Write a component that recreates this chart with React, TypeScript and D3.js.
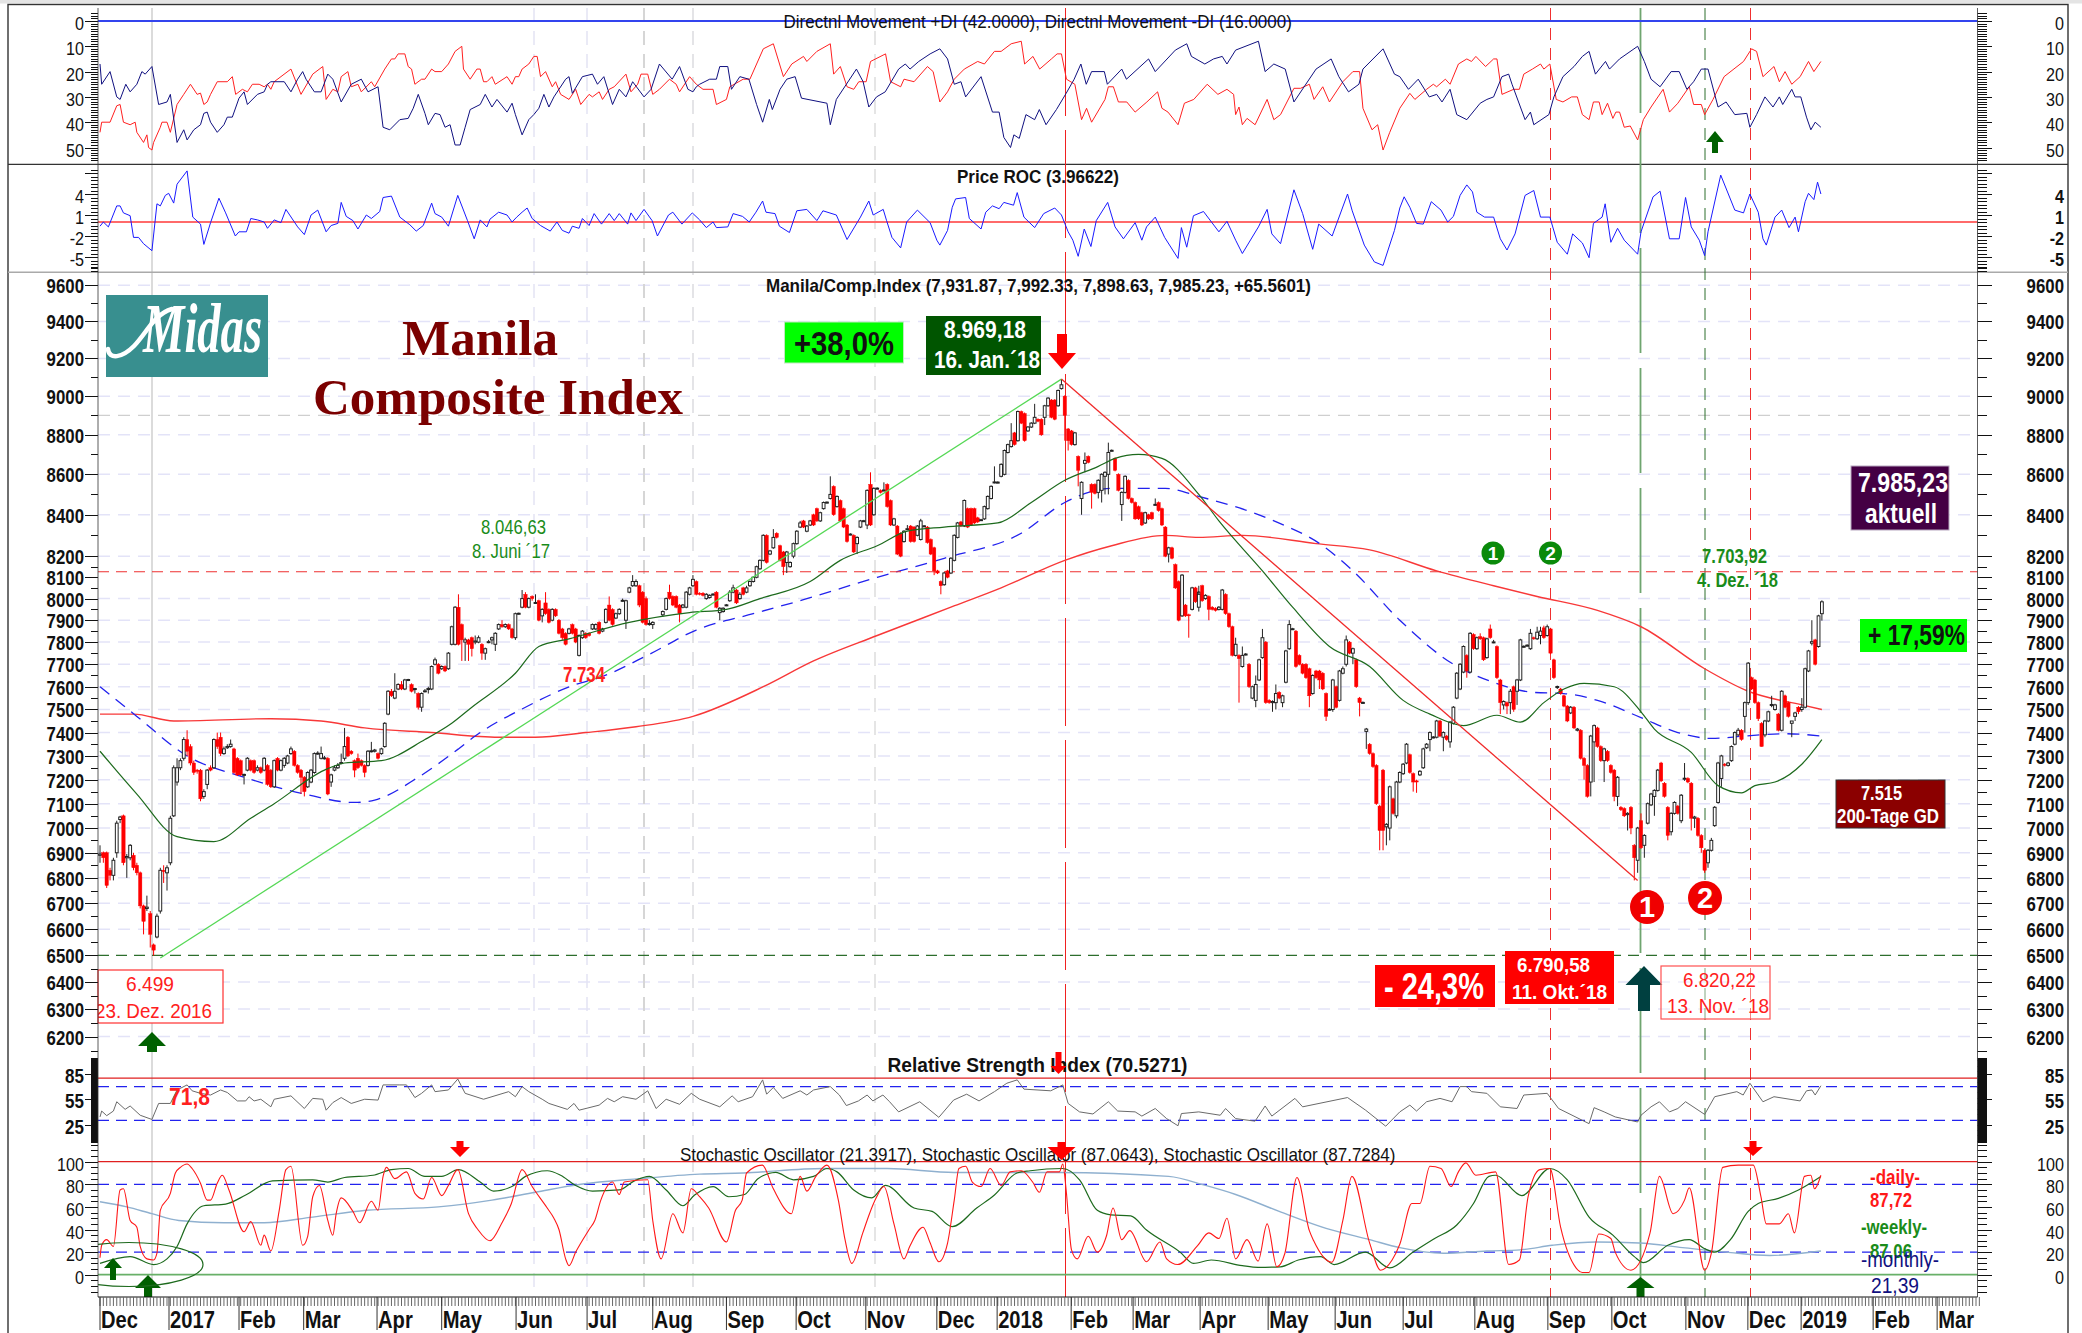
import React from "react";
import * as d3 from "d3";

// ---------- tick labels ----------
const priceLabels = [9600,9400,9200,9000,8800,8600,8400,8200,8100,8000,7900,7800,7700,7600,7500,7400,7300,7200,7100,7000,6900,6800,6700,6600,6500,6400,6300,6200];
const diLabels = [0,10,20,30,40,50];
const rocLabels = [4,1,-2,-5];
const rsiLabels = [85,55,25];
const stochLabels = [100,80,60,40,20,0];
const monthNames = ["Dec","2017","Feb","Mar","Apr","May","Jun","Jul","Aug","Sep","Oct","Nov","Dec","2018","Feb","Mar","Apr","May","Jun","Jul","Aug","Sep","Oct","Nov","Dec","2019","Feb","Mar"];
const monthDay = [0,20.6,41.5,60.8,82.7,102,124.2,145.4,165,187,207.8,228.6,249.8,267.8,289.9,308.4,328.4,348.7,368.7,389,410.4,432.2,451.3,473.4,491.9,507.8,529.3,548.4];

// ---------- candles: [open, high, low, close] ----------
const candlesA = [
[6890,6930,6860,6895],[6900,6905,6860,6880],[6900,6905,6760,6770],[6830,6840,6790,6810],[6810,6880,6790,6870],[6900,7030,6880,7020],[7035,7050,7020,7045],[7050,7055,6850,6860],[6880,6895,6800,6885],[6880,6935,6870,6930],
[6890,6900,6830,6840],[6850,6860,6810,6820],[6820,6825,6680,6690],[6690,6695,6580,6630],[6680,6730,6670,6685],[6660,6670,6530,6580],[6540,6545,6499,6520],[6570,6660,6565,6650],[6670,6840,6660,6830],[6830,6850,6780,6825],
[6820,6850,6750,6840],[6860,7050,6850,7040],[7050,7260,7045,7250],[7190,7290,7175,7250],[7250,7290,7240,7280],[7290,7380,7280,7370],[7370,7410,7300,7320],[7340,7350,7260,7270],[7270,7280,7220,7230],[7240,7245,7225,7235],
[7240,7245,7110,7120],[7130,7160,7120,7150],[7180,7245,7160,7240],[7250,7260,7235,7240],[7250,7375,7245,7370],[7370,7400,7330,7340],[7380,7400,7300,7310],[7310,7340,7305,7330],[7335,7350,7330,7340],[7340,7370,7335,7350],
[7330,7335,7225,7230],[7290,7295,7215,7220],[7280,7285,7215,7220],[7220,7225,7180,7222],[7240,7295,7235,7290],[7280,7285,7235,7240],[7280,7285,7225,7230],[7240,7260,7235,7250],[7250,7255,7225,7230],[7240,7295,7235,7290],
[7260,7265,7175,7180],[7240,7245,7165,7170],[7170,7285,7165,7280],[7290,7295,7235,7240],[7240,7285,7235,7280],[7260,7295,7250,7290],[7270,7305,7265,7300],[7310,7340,7305,7330],[7320,7325,7255,7260],[7260,7265,7225,7230],
[7240,7245,7140,7210],[7210,7215,7130,7150],[7170,7235,7165,7230],[7190,7245,7185,7240],[7230,7315,7225,7310],[7310,7320,7305,7312],[7290,7340,7285,7310],[7290,7300,7285,7292],[7290,7295,7135,7140],[7190,7225,7170,7220],
[7240,7260,7235,7250],[7250,7270,7245,7260],[7270,7310,7265,7272],[7290,7420,7280,7340],[7380,7385,7295,7300],[7320,7325,7305,7310],[7280,7285,7210,7240],[7290,7310,7245,7250],[7280,7285,7255,7260],[7260,7265,7210,7230],
[7260,7325,7255,7320],[7320,7360,7315,7322],[7320,7330,7315,7325],[7310,7315,7285,7290],[7310,7335,7305,7330],[7340,7445,7335,7440],[7480,7585,7475,7580],[7580,7590,7555,7560],[7550,7660,7545,7580],[7590,7615,7585,7610],
[7610,7625,7585,7590],[7590,7635,7585,7630],[7630,7635,7625,7632],[7610,7615,7575,7580],[7590,7595,7570,7592],[7570,7575,7500,7510],[7510,7575,7490,7570],[7580,7590,7575,7582],[7590,7600,7570,7592],[7590,7695,7585,7690],
[7700,7730,7695,7720],[7700,7705,7655,7660],[7680,7695,7675,7690],[7690,7695,7665,7670],[7680,7755,7675,7750],[7790,7875,7785,7870],[7790,7965,7785,7960],[7960,8020,7785,7790],[7880,7885,7715,7810],[7800,7820,7715,7810],
[7810,7815,7715,7790],[7820,7825,7735,7770],[7800,7830,7790,7805],[7800,7830,7795,7820],[7790,7795,7720,7750],[7750,7775,7720,7770],[7800,7810,7795,7802],[7810,7825,7790,7820],[7790,7845,7760,7840],[7860,7885,7855,7880],
[7880,7900,7865,7870],[7870,7885,7865,7880],[7880,7885,7855,7860],[7860,7865,7815,7820],[7820,7935,7810,7930],[7930,7935,7925,7932],[7960,8040,7955,8000],[8020,8030,7955,7960],[7960,8005,7955,8000],[8010,8015,7990,8000],
[7980,8020,7975,7982],[7990,7995,7895,7900],[7920,7955,7890,7950],[7980,8030,7925,7930],[7950,7955,7885,7890],[7900,7955,7895,7950],[7950,7955,7915,7920],[7900,7905,7835,7840],[7860,7865,7810,7820],[7840,7845,7785,7790],
[7840,7865,7835,7860],[7880,7885,7835,7840],[7860,7865,7795,7800],[7740,7835,7735,7830],[7820,7855,7815,7850],[7840,7845,7815,7820],[7840,7845,7825,7830],[7860,7885,7855,7880],[7860,7885,7855,7880],[7890,7895,7835,7840],
[7850,7865,7845,7860],[7890,7955,7885,7950],[7970,8010,7895,7900],[7950,7955,7875,7880],[7910,7935,7905,7930],[7930,7955,7925,7950],[7990,8000,7985,7992],[7900,7995,7860,7990],[8030,8055,8025,8050],[8060,8110,8055,8080],
[8060,8090,8055,8080],[8060,8065,7960,7970],[8030,8035,7885,7890],[8000,8010,7875,7880],[7880,7900,7875,7885],[7880,7895,7860,7890]
];
const candlesB = [
[7925,7945,7915,7940],[7950,8005,7945,8000],[8030,8065,7995,8000],[8010,8015,7965,7970],[8010,8015,7955,7960],[7970,7975,7890,7930],[7960,7975,7955,7970],[7960,8035,7955,8030],[8020,8055,8015,8050],[8060,8110,8055,8090],
[8080,8085,8015,8020],[8025,8030,8015,8020],[8025,8030,8010,8015],[8000,8025,7995,8020],[8005,8020,8000,8015],[8020,8025,8015,8021],[8030,8035,7955,7960],[7935,7960,7900,7955],[7940,7960,7935,7955],[7970,7975,7965,7971],
[7990,8040,7985,8030],[8030,8065,8025,8050],[8040,8045,7975,7980],[8000,8030,7995,8020],[8050,8055,8015,8020],[8030,8060,8025,8050],[8060,8085,8055,8080],[8080,8105,8075,8100],[8100,8155,8095,8150],[8140,8185,8135,8180],
[8180,8305,8175,8300],[8300,8305,8165,8170],[8210,8230,8205,8225],[8240,8330,8235,8290],[8310,8315,8285,8290],[8250,8255,8175,8180],[8220,8225,8110,8150],[8170,8225,8120,8220],[8150,8175,8145,8170],[8200,8265,8190,8260],
[8260,8325,8255,8320],[8340,8370,8335,8360],[8370,8375,8335,8340],[8320,8350,8315,8345],[8350,8375,8345,8370],[8400,8405,8345,8350],[8430,8435,8365,8370],[8370,8415,8365,8410],[8430,8465,8425,8460],[8460,8465,8455,8462],
[8480,8590,8475,8500],[8540,8545,8395,8400],[8440,8495,8435,8490],[8470,8475,8365,8370],[8430,8435,8335,8340],[8350,8355,8265,8270],[8305,8310,8300,8306],[8300,8305,8215,8220],[8260,8295,8210,8290],[8340,8375,8335,8370],
[8370,8375,8365,8371],[8350,8525,8330,8520],[8550,8610,8345,8350],[8400,8535,8395,8530],[8530,8535,8525,8531],[8520,8525,8505,8510],[8520,8560,8515,8522],[8550,8555,8435,8440],[8470,8475,8345,8350],[8350,8385,8345,8380],
[8345,8350,8205,8210],[8310,8315,8195,8200],[8270,8325,8265,8320],[8330,8350,8325,8332],[8345,8350,8265,8270],[8340,8345,8265,8270],[8300,8350,8295,8345],[8280,8380,8275,8370],[8345,8350,8340,8346],[8340,8345,8260,8265],
[8280,8285,8205,8210],[8240,8245,8110,8130],[8130,8135,8115,8120],[8080,8085,8020,8060],[8065,8125,8060,8120],[8130,8135,8095,8100],[8120,8195,8115,8190],[8180,8305,8175,8300],[8290,8365,8285,8360],[8365,8370,8340,8345],
[8345,8475,8340,8470],[8430,8435,8335,8340],[8430,8435,8345,8350],[8430,8435,8355,8360],[8385,8390,8360,8365],[8375,8380,8370,8376],[8380,8445,8375,8440],[8430,8495,8425,8490],[8480,8545,8475,8540],[8560,8640,8555,8562],
[8560,8565,8555,8561],[8590,8655,8585,8650],[8600,8725,8595,8720],[8710,8755,8705,8750],[8740,8860,8735,8770],[8810,8815,8745,8750],[8770,8925,8765,8920],[8920,8925,8855,8860],[8910,8915,8765,8770],[8820,8845,8815,8840],
[8840,8865,8835,8860],[8860,8960,8855,8890],[8880,8885,8865,8870],[8880,8885,8795,8800],[8890,8955,8850,8950],[8950,8995,8945,8990],[8980,8985,8885,8890],[8980,8985,8875,8880],[8950,9035,8945,9030],[9040,9090,9035,9060],
[9000,9005,8770,8900],[8830,8835,8720,8770],[8820,8825,8745,8750],[8750,8815,8745,8810],[8690,8695,8540,8620],[8480,8565,8400,8560],[8655,8710,8610,8670],[8690,8695,8655,8660],[8550,8555,8430,8510],[8550,8555,8500,8505],
[8510,8575,8480,8570],[8520,8605,8460,8600],[8590,8615,8500,8610],[8600,8760,8500,8710],[8720,8725,8715,8721],[8680,8685,8615,8620],[8600,8605,8515,8520],[8450,8515,8370,8510],[8510,8595,8505,8590],[8570,8575,8475,8480],
[8480,8485,8455,8460],[8460,8465,8375,8380],[8440,8445,8375,8380],[8410,8415,8345,8350],[8360,8415,8355,8410],[8400,8405,8375,8380],[8410,8415,8375,8380],[8450,8480,8445,8451],[8460,8465,8415,8420],[8430,8435,8345,8350],
[8340,8345,8195,8200],[8210,8245,8170,8240],[8240,8245,8185,8190],[8160,8165,8045,8050],[8080,8085,7895,7900],[7920,8115,7915,8110],[7970,7975,7915,7920],[7925,7930,7820,7920],[7950,8055,7945,8050],[8050,8055,7980,7985],[7990,8035,7985,8030]
];
const candlesC = [
[7960,8060,7940,8020],[8060,8065,7985,7990],[8000,8020,7995,8015],[8010,8015,7900,7950],[7960,7965,7945,7950],[7955,7960,7940,7945],[7950,7965,7945,7960],[7950,8045,7945,8040],[8020,8025,7925,7930],[7930,7935,7865,7870],
[7870,7875,7735,7740],[7740,7820,7735,7790],[7740,7745,7530,7725],[7690,7780,7685,7740],[7745,7750,7740,7746],[7700,7705,7595,7600],[7550,7605,7545,7600],[7540,7650,7510,7610],[7630,7725,7625,7720],[7730,7860,7725,7820],
[7800,7805,7525,7530],[7540,7545,7525,7530],[7530,7540,7490,7535],[7530,7610,7500,7570],[7575,7580,7545,7550],[7530,7565,7510,7560],[7620,7765,7615,7760],[7770,7900,7765,7880],[7860,7865,7855,7861],[7850,7855,7685,7690],
[7740,7745,7695,7700],[7700,7705,7655,7660],[7700,7705,7635,7640],[7680,7685,7510,7560],[7570,7655,7565,7650],[7670,7675,7635,7640],[7670,7675,7590,7630],[7660,7665,7585,7590],[7570,7575,7450,7470],[7500,7505,7495,7501],
[7500,7635,7490,7630],[7600,7605,7505,7510],[7540,7675,7535,7670],[7660,7690,7655,7680],[7700,7830,7690,7810],[7800,7805,7745,7750],[7750,7775,7700,7770],[7720,7725,7595,7600],[7550,7555,7470,7530],[7530,7535,7525,7531],
[7405,7420,7330,7415],[7350,7355,7305,7310],[7310,7315,7250,7255],[7260,7265,7095,7100],[7090,7095,6910,6990],[7240,7245,6910,6990],[7005,7020,6930,7015],[7000,7175,6950,7170],[7120,7125,7055,7060],[7050,7195,7040,7190],
[7190,7235,7185,7230],[7225,7270,7220,7265],[7270,7355,7265,7350],[7305,7310,7225,7230],[7225,7230,7150,7190],[7195,7200,7145,7190],[7220,7240,7215,7235],[7250,7335,7245,7330],[7335,7355,7330,7350],[7370,7405,7320,7400],
[7380,7385,7375,7381],[7380,7455,7375,7450],[7450,7455,7380,7385],[7380,7405,7320,7400],[7385,7390,7365,7370],[7360,7450,7335,7445],[7440,7515,7435,7510],[7550,7665,7545,7660],[7590,7705,7585,7700],[7665,7785,7660,7780],
[7740,7745,7640,7670],[7665,7845,7660,7840],[7835,7840,7765,7770],[7770,7825,7765,7820],[7825,7840,7810,7815],[7820,7825,7715,7720],[7730,7820,7725,7815],[7860,7880,7815,7820],[7800,7810,7795,7801],[7780,7785,7635,7640],
[7630,7635,7480,7530],[7520,7540,7500,7535],[7530,7535,7480,7515],[7530,7590,7480,7580],[7600,7605,7490,7500],[7580,7635,7520,7630],[7630,7815,7625,7810],[7780,7785,7775,7781],[7785,7790,7780,7786],[7770,7860,7765,7840],
[7820,7825,7810,7815],[7815,7870,7810,7845],[7830,7870,7790,7850],[7865,7875,7815,7820],[7830,7880,7825,7870],[7860,7865,7745,7750],[7720,7725,7635,7640],[7600,7605,7590,7601],[7590,7595,7565,7570],[7560,7565,7510,7515],
[7515,7520,7445,7450],[7485,7515,7480,7510],[7510,7515,7415,7420],[7410,7420,7405,7415],[7410,7415,7285,7290],[7290,7295,7200,7260],[7260,7265,7125,7130],[7190,7390,7130,7385],[7360,7435,7190,7430],[7420,7425,7335,7340],
[7340,7345,7275,7280],[7280,7335,7190,7330],[7320,7325,7275,7280],[7260,7265,7225,7230],[7240,7245,7110,7130],[7130,7215,7090,7210],[7085,7090,7070,7075],[7080,7085,7045,7050],[7055,7065,6990,7060],[7085,7090,6975,7000],
[6930,6935,6790,6880],[6870,7005,6820,7000],[7030,7060,6915,6920],[6930,6975,6880,6970],[7020,7105,7015,7100],[7095,7145,7090,7140],[7130,7160,7050,7155],[7155,7245,7150,7240],[7270,7275,7190,7195],[7185,7190,7125,7130],
[7085,7090,6950,6970],[6985,7065,6970,7060],[7060,7110,7055,7105],[7090,7095,7055,7060],[7030,7140,7020,7135],[7205,7270,7195,7206],[7205,7210,7185,7190],[7185,7190,6990,7040],[7040,7050,7000,7045],[7040,7045,6965,6970],
[6970,6975,6900,6920],[6910,6915,6820,6830],[6860,6915,6840,6910],[6910,6960,6905,6950],[7010,7090,7005,7085],[7105,7275,7100,7270],[7205,7305,7170,7300],[7265,7270,7255,7260],[7260,7275,7255,7270],[7280,7345,7275,7340],
[7350,7405,7345,7400],[7390,7420,7385,7410],[7410,7415,7365,7370],[7470,7535,7400,7530]
];
const candlesD = [
[7530,7710,7520,7705],[7640,7645,7585,7590],[7630,7635,7525,7530],[7530,7535,7450,7460],[7440,7445,7340,7340],[7390,7455,7380,7450],[7450,7495,7445,7490],[7520,7560,7510,7522],[7500,7525,7495,7520],[7480,7485,7405,7410],
[7410,7585,7405,7580],[7560,7565,7505,7510],[7530,7535,7465,7470],[7440,7450,7380,7450],[7470,7490,7450,7485],[7510,7515,7480,7490],[7500,7550,7490,7510],[7510,7685,7505,7680],[7670,7765,7665,7760],[7795,7900,7785,7802],
[7810,7815,7695,7700],[7780,7925,7775,7920],[7930,7992,7898,7985]
];
const sectionStart = [0, 168, 328, 492];

// ---------- moving averages: [candle index, value] ----------
const ma200 = [[0,7480],[10,7480],[22,7450],[51,7460],[66,7450],[79,7420],[99,7400],[119,7380],[130,7380],[145,7400],[160,7425],[177,7470],[198,7600],[213,7715],[232,7830],[254,7960],[269,8050],[288,8180],[302,8250],[318,8300],[328,8290],[341,8300],[363,8260],[379,8230],[399,8130],[416,8060],[429,8010],[447,7945],[460,7870],[479,7680],[492,7580],[508,7520],[514,7500]];
const ma100 = [[0,7600],[11,7470],[26,7300],[43,7210],[61,7140],[76,7105],[82,7115],[95,7210],[107,7330],[112,7385],[127,7510],[142,7610],[149,7640],[164,7745],[178,7855],[195,7930],[210,7995],[232,8100],[252,8190],[275,8310],[288,8460],[302,8530],[318,8530],[328,8490],[350,8373],[365,8250],[374,8130],[388,7900],[404,7700],[415,7625],[428,7575],[437,7570],[447,7540],[460,7465],[471,7400],[481,7375],[491,7385],[503,7395],[514,7385]];
const ma50 = [[0,7320],[11,7140],[23,6965],[34,6945],[45,7040],[52,7100],[67,7240],[73,7270],[84,7280],[97,7370],[105,7440],[111,7510],[124,7660],[131,7780],[140,7815],[158,7890],[176,7935],[187,7950],[197,8000],[212,8080],[221,8180],[232,8250],[241,8320],[252,8340],[268,8360],[278,8460],[288,8570],[298,8640],[303,8680],[310,8700],[317,8680],[328,8500],[334,8370],[347,8130],[356,7960],[367,7780],[379,7690],[389,7540],[397,7480],[407,7430],[417,7475],[424,7445],[431,7530],[437,7590],[443,7615],[452,7600],[460,7490],[464,7415],[475,7315],[483,7175],[490,7145],[494,7175],[500,7190],[508,7265],[514,7370]];
const trendUp = [[18,6490],[287,9090]];
const trendDown = [[287,9090],[459,6790]];

// ---------- DMI ----------
const diRed = [[0,44],[0.5,40],[3,40],[5,33.5],[6,33],[7,40],[9,41],[10.5,40],[11,44],[13,48],[14,45],[14.5,50],[15.5,51],[16,48],[18,42],[18.5,40],[20,40],[21,44],[23,33],[25,29],[27,25],[29,29],[30,28.5],[31,33],[32,32],[33,29],[35,24],[38,24],[39.5,22],[40.5,29],[42.5,27],[44,28],[45.5,25],[47.5,25],[49,26],[50,25],[51,27],[52,24],[57,19],[60,29],[63.5,21],[66.5,18],[67.5,31],[69.5,27],[71,28],[72,22],[74,20],[75,26],[77,25],[78,28],[81,24],[82,26],[85,19],[87,15],[88,15],[89,13],[91,13],[92,18],[93,19],[94,25],[96,23],[97,23],[99,19],[100,20],[102,20],[104,17],[106,12],[108,10],[108.5,19],[110.5,23],[112.5,19],[113.5,19],[114.5,24],[115.5,24],[117,22],[118,25],[121.5,22],[123,25],[124,22],[125,22],[126,19],[128,17],[129.5,14],[130.5,14],[131.5,22],[133,20],[135,26],[136,24],[137.5,29],[140,31],[142,27],[143.5,33],[146,29],[147,30],[149,28],[150,31],[152,27],[153.5,26],[157,21],[158.5,28],[160.5,25],[161.5,21],[163.5,21],[165,29],[167,27],[170,23],[172,25],[173,28],[176,22],[178,25],[180,27],[183,27],[184,33],[187,31],[188,26],[192,23],[194,23],[198,11],[201,9],[204,22],[206.5,17],[210,14],[211,16],[214,12],[218,9],[219,21],[221,18],[223,26],[225,27],[226.5,24],[228.7,24],[230,16],[234.5,13],[236,24],[239,26],[240,23],[243,24],[247,18],[248.7,20],[250.7,32],[253,28],[255,23],[258,19],[262,16],[264,17],[267,12],[269,12],[272,9],[275,8],[276,17],[278.5,14],[280.5,19],[284,15],[285.7,13],[287,13],[288.5,23],[291,25],[293,39],[294.5,34.5],[296,40],[300,31],[301,26],[302.5,26],[304,32],[306.5,32],[309,36],[312.5,32],[315.7,28],[317,34.5],[318.8,36],[321.8,41],[323.7,32.5],[326.5,31],[330.5,25],[333.7,29],[336.4,27],[338.4,29],[339,37],[340,34],[341,41],[342.4,38.5],[344.8,41],[348.4,31],[350.4,39],[352.4,37],[356.4,26.6],[358.4,26.6],[361,25],[362.4,31],[365,26],[367,32],[371,24],[374,20],[376,20],[377,34.5],[379.7,43],[381.4,41],[383,51],[385,44],[388,34.5],[391,28.6],[392.5,31],[396,27],[398,25],[399,26],[401.6,23],[403,25],[405.5,17],[408,15],[409.4,16],[410.7,14],[413.6,18],[416,15],[417,15],[418.5,29],[422,27],[423.7,27],[425,21],[427.6,19],[430,17],[431,19],[432.8,17],[434.7,31],[436.7,32],[439.3,30],[441,30],[442.5,37],[444.5,39],[445.8,32],[447.5,32],[448.4,37],[450,32.5],[451.6,38.5],[452.5,36],[453.6,36],[455,42],[456.8,41.5],[459,47],[460.7,39],[463,34],[466.6,27],[468.5,36],[471,32.5],[474.4,26],[475.7,33],[478,33],[479,37],[481.5,31],[484.8,22],[490.6,16],[493,11],[494.5,12],[496.4,22],[499.7,18],[501.3,24],[503,20],[505,25],[507.5,22],[510,16],[511.6,20],[513.7,16]];
const diBlue = [[0,17],[0.5,25],[3,20],[5,30],[6,31],[7.7,25],[9,28],[11,25],[12.5,20],[13.5,21],[15.5,18],[17.5,33],[20,32],[21,29],[23,48],[25,43],[26,47],[28,43],[30,41],[31,36.5],[32,36],[33,40],[35,44],[37,41],[38,38],[39.5,38],[41.5,30.5],[43,28],[44,33],[47,29],[49,28],[50,25],[51,24],[55,24],[57,28],[59,23],[60.5,20],[61.5,23],[64,28],[66,28],[68,21],[69.5,23],[72,32],[75,25],[78,23],[80,28],[83,26],[84.5,42],[86.5,43],[89.5,39],[92,38.5],[93.5,34.5],[95,29],[97,36.5],[98,41],[100,36.5],[101.5,37],[103,42],[104.5,41],[106,49],[107.5,49],[109,42],[110.5,35],[113.5,33],[115,29],[117,34],[118.5,31],[121.5,36],[123,32.5],[124,37],[126,45],[128,39],[129.5,37],[131,34.5],[132.5,29],[134,34],[135.5,30],[139,23],[140,22],[141,28.6],[144,22],[147,21],[148.5,25],[150.4,22],[153,33],[155,27],[157,30],[159,24],[162.4,30],[164.5,27],[167,17],[170.8,23],[173,18],[175.5,27],[177,28],[178,26],[179,25],[182,23],[184,23],[185,18],[187.4,18],[188.5,27],[191,22],[193.7,23],[196,33],[197.8,40],[199.8,31],[200.7,35],[203,27],[205,23],[207.5,22],[209.4,30.5],[217,32.5],[218,41],[219.8,31],[225.8,19],[227.8,24],[229.5,34],[231.8,30],[234.4,28],[238.4,19],[240.4,17],[241.8,19],[244.4,16],[247.8,13],[250.7,11],[253,15],[255,25],[257,24],[258.4,30],[263,22],[266.4,36],[268.4,36],[269.8,46],[271.8,50],[272.8,45],[274.4,46.4],[276.4,37],[279,39],[280.4,35],[282.4,41],[285.5,35],[288.4,28.6],[290.8,23],[292.8,17],[294.4,25],[296,20],[299.8,20],[300.7,25],[305,19],[306.4,23],[313,15],[315,20],[321,11.5],[324.4,9],[325.8,14],[329.8,17],[332.4,15],[335,14],[336.4,17],[339,11.5],[345.8,8],[347.8,20],[350.4,17],[353.8,19],[356.4,32],[363,19],[367.5,15],[369.8,22],[372.7,28],[375.8,25],[377,19],[383,11],[386.4,21],[388,22],[390.6,27],[393.5,23],[396.8,30],[399,29],[400.6,32],[403,27],[405,37],[408,39],[412,32.5],[414,31],[416,30],[418.5,22],[420.5,21],[421.5,25],[425.4,39],[427,36],[428,41],[432.5,37],[434,30],[436.7,22],[440,18],[442.5,14],[444.5,12],[446.4,21],[449.4,16],[450.6,19],[453.6,15],[459,10],[461,16],[463,23],[465.7,26],[469,20],[471.4,20],[473.7,27],[475.7,24],[478,19],[480,19],[483,34],[485.4,32],[488,37],[491.6,36.5],[492.5,42],[494.5,37],[497,30],[499.4,34],[501.3,30],[502.3,33],[505,27],[506,30],[507.7,30],[509.4,38],[510.7,43],[512,40],[513.7,42]];

// ---------- Price ROC ----------
const rocLine = [[0,-.6],[1,0],[2.5,-.7],[5,2.3],[6,2.3],[7,1.3],[9,.9],[10,-2.2],[11.5,-2.2],[13,-3.1],[15.5,-4.1],[17,2.6],[18,2.3],[19.5,3.8],[20.5,4.1],[22,2.7],[23,5.4],[26,7.3],[27.7,.7],[30,-.3],[31,-3.2],[33,-.1],[35.5,3.4],[37.5,1.3],[40.4,-2],[41.5,-1.4],[43.7,-1.4],[45,.5],[47,.3],[49,0],[50,-.9],[52,.3],[54,-.1],[55.5,1.8],[59,-.7],[61,-1.8],[63,1],[65,1.7],[67.5,-1.4],[69,-.5],[71,-.2],[72,2.8],[73.5,.8],[75.5,.2],[77,-1],[79.5,1],[81,.5],[83.5,1.5],[84.5,3.5],[87,3.7],[89.5,.7],[92.5,-.4],[94.4,-1.3],[96.5,-.5],[99,2.7],[100,1.2],[102,.7],[104,-.6],[106.8,3.8],[109.7,.2],[111.7,-2.4],[113.5,.3],[115.5,-.7],[116.4,.4],[119,1.4],[121.5,1],[123,0],[124.4,.7],[126,1.4],[127.5,2],[129,.5],[131.5,-.5],[134.4,-1.3],[136.4,0],[138,-1.2],[140,-1.6],[141,-.6],[143,-.9],[144,.5],[146,-.5],[147.5,1.2],[149.7,-.3],[152,1.2],[153.5,.2],[155,1.2],[157.5,-.3],[158.5,1.3],[160,.2],[162.4,1.8],[164.8,.2],[166.4,-2],[169.7,1],[171,1.4],[173.7,-.3],[176.8,1.3],[179,.3],[181,-.8],[183,0],[184,-.8],[187.4,-.7],[189,1.2],[191.8,.8],[193.8,0],[195.8,1.4],[197.8,3],[198.8,1.4],[201.5,1.2],[202.8,-.6],[205.8,-1.5],[208,1.6],[211,1.8],[214,.2],[215.8,1.6],[219.8,1],[223,-2.5],[227,.7],[229.5,3],[230.8,1],[233.8,1.8],[234.8,.2],[236.4,-2.2],[239,-3.7],[240.8,0],[244,1.7],[247.8,-.1],[249.8,-2.6],[250.7,-3.3],[253,-1.2],[254.4,2.1],[255.4,3.3],[258.4,3.5],[259.5,.5],[263,-1],[264.4,1.4],[266.4,2.3],[268.4,1.9],[269.8,2.8],[272.7,2.4],[273.8,4.2],[275.8,.7],[279,-.8],[281.7,1.2],[285,2],[287,1],[289,-1.4],[290.4,-2.6],[292,-4.9],[293.8,-1],[295.8,-3.5],[297.4,.2],[300.8,2.8],[303,-.7],[305.5,-2.4],[309,-.1],[311,-2.6],[312.4,-.7],[315,.7],[317.8,-2.2],[321.8,-5.2],[322.8,-.8],[324.4,-3.6],[326.4,.9],[329.4,1.5],[334,-1.4],[336.4,.1],[339,-2.6],[341,-4.5],[345.8,-.7],[348.4,1.8],[349.8,-1.7],[352.4,-3.1],[356.4,4.6],[359,1.2],[362,-3.9],[363.8,-.3],[367.8,-2],[372.4,4],[373.8,1.6],[377.4,-3.3],[380.4,-5.7],[383,-6.2],[386.4,-1.2],[388,2],[389.3,3.6],[391,2.1],[393,-.2],[395,-.3],[397.4,2.9],[400.3,1.7],[402.3,0],[404,.8],[406,3.8],[408,5.3],[409.7,4.3],[411,1.4],[413.3,.7],[416,.7],[418,-2.4],[420,-4],[422.4,-1.7],[425.4,3.8],[428,4.5],[430,.7],[432.8,.7],[435,-2.9],[438,-4.6],[439.6,-1.7],[442.5,-3],[444.5,-5.1],[445.8,-.2],[448.4,.7],[449.3,2.6],[451,-2.9],[453,-.9],[455,-2.6],[459,-4.6],[460,-1.4],[463.6,3.6],[465.7,4.4],[468.5,-2.4],[471.4,-2.4],[473.3,3.5],[475,-.7],[477.4,-2.6],[479,-4.8],[480,-1.4],[483.8,6.7],[488,1.7],[490.6,1.3],[492.5,4],[495,1.4],[496.4,-2.4],[497.4,-3.3],[500,.7],[502,1.7],[504.2,-.8],[506,.7],[507,-1.4],[509,2.9],[510,4.1],[511.6,3.2],[512.7,5.7],[513.7,4]];

// ---------- RSI ----------
const rsiLine = [[0,34],[.5,41],[2,35.5],[4,41],[5,52],[7.5,43],[9,47],[12,36],[15.5,31],[17.5,50],[21,50],[23,66],[26,72],[27.5,65],[30,62],[33,60],[36,66],[38,63],[41,53],[43.5,53],[44.5,58],[46,53],[48,55],[51,46],[52,55],[57,59],[61,44],[63.5,56],[66.5,55],[67.5,42],[69.5,51],[72,57],[75,50],[79,55],[83,54],[84.5,72],[89.5,72],[91.5,72],[94,57],[96,62],[99,72],[100,64],[104,66],[106.8,79],[109,62],[114.5,55],[122,64],[124,58],[126,70],[128,64],[132,55],[134,50],[139.5,43],[141.5,50],[143,42],[149,48],[151.5,56],[153.5,52],[156,58],[160,55],[163.5,65],[166,44],[169,55],[173,49],[176.5,62],[179,55],[185,46],[188.7,59],[190.5,52],[194.8,58],[197.8,78],[199,61],[201,69],[203.8,56],[209,65],[211,60],[213,66],[218,70],[220.7,60],[222.8,47.5],[226.4,53],[229,60],[230.7,53],[233.7,60],[235.7,52],[238.4,40],[244.7,52],[250.4,33.5],[254.8,54],[258.7,61],[262.4,53],[267,64],[270.7,74],[273.8,78],[275.8,67],[283.8,65],[287.4,72],[289,50],[292.4,40],[296.4,37.5],[301,52],[303.8,41],[309,40],[311,35],[315,44],[318.4,32],[321.8,23.5],[322.8,38],[328,40],[334.4,36],[336,44],[339,32],[344.8,29],[347.8,47],[349.8,35],[356.7,56],[359,46],[372.4,57],[377.8,42],[383.8,23],[388,40],[391,48],[393,41],[396,52],[400,56],[403.6,52],[406,70],[408,70],[409.4,64],[414,62],[418,46],[423,44],[425,60],[432,62],[435.4,44],[444.5,26],[446,45],[449,40],[452.3,34],[459,28],[460,36],[463,46],[465.5,52],[468.5,40],[471,44],[473.3,52],[479,37],[482,58],[488.6,64],[490.5,60],[492.5,74],[496.4,52],[499.7,58],[507.5,53],[509.4,65],[511,66],[512,60],[513.7,71]];

// ---------- Stochastics ----------
const stochDaily = [[0,15],[.5,26],[2,31],[4,25],[6,75],[7,76],[9,48],[11,42],[12,25],[14,14],[16,13],[17,19],[18,57],[21,72],[22.5,90],[24,95],[26,98],[27.5,94],[30,81],[32,66],[33,66],[35,81],[36.5,88],[38.5,75],[43,38],[45,47],[48,26],[49,35],[51,21],[53.5,57],[55.5,93],[57,96],[60.5,26],[62,34],[63.5,69],[65.5,79],[68,48],[69.5,35],[70.5,54],[72,68],[75.5,56],[77.5,46],[81,65],[83,57],[84.5,87],[85.5,95],[88,85],[91.5,91],[94,72],[96.5,67],[99,86],[102,70],[104,79],[106.8,93],[110,54],[112.8,40],[116.4,30],[120,46],[122.8,63],[126,93],[129,78],[133.5,59],[135.5,50],[137,40],[139,14],[140,8],[142,20],[146,40],[147.7,48],[149.5,66],[153,82],[155,71],[156.5,82],[163.5,84],[165,48],[167.5,14],[171,54],[174,37],[176.5,76],[179,69],[181.7,59],[187,29],[189.7,57],[191.7,66],[193,90],[197.7,97],[201,76],[206.4,54],[209,87],[211,74],[213.7,87],[217,97],[220.4,66],[222.4,31],[224.4,10],[227.7,37],[229.7,54],[231.7,68],[234,78],[237,45],[240,14],[241.7,25],[245.7,42],[247.7,29],[250.4,11.5],[253,28],[255,66],[256.4,94],[258.4,96],[260.4,82],[263,78],[265.7,94],[269,79],[271.7,91],[275,92],[278.4,82],[280.4,73],[282.7,91],[286.4,91],[287.4,98],[288.4,75],[290,22],[291.7,14],[295,34],[297.7,20],[300.4,34],[302.4,59],[305,31],[307.4,39],[312.4,11.5],[316.4,29],[318.4,14],[321.7,9],[327.7,26],[331,37],[334,32],[336.4,50],[339,14],[342.4,31],[345.7,12],[348.4,45],[351.3,7],[353.7,19],[357.3,86],[361,39],[362.3,30],[367.7,11],[371,48],[373.7,87],[379,28],[382.3,4],[385.7,13],[388,27],[391.6,63],[394,63],[397,96],[400.3,94],[403.3,78],[405.5,91],[407.7,99],[410.7,88],[416.6,91],[420.5,9],[423.7,13],[426.3,69],[429.8,93],[432.8,94],[436,42],[440.6,6],[442.5,2],[444.5,2],[447.4,36],[451,32],[452.3,20],[457,4],[462.7,37],[465.5,87],[469.6,54],[473,66],[474.4,77],[479,4],[481,19],[484.4,95],[489,97],[493.5,97],[495.8,69],[497.4,45],[501.3,45],[504,54],[505.8,37],[508.8,87],[510.7,88],[511.8,76],[513.7,88]];
const stochWeekly = [[0,10],[9,16],[16,9],[20,14],[23,25],[26,45],[31,61],[37.5,62.5],[43.5,70.5],[51.5,83],[63.5,84],[68,82],[73,86],[81.5,88],[87,93],[92,94],[97,87],[102,87],[107,93],[113.5,82],[117.5,74],[123.5,79],[127,87],[133.5,92],[137.5,88],[142,79],[147,74],[155,75],[159.5,83],[164,87],[169,75],[174,61],[177.5,70.5],[183,78],[187.7,69],[192.4,71],[196.4,85],[201.7,90.5],[207,84],[213,87],[217,94],[220,91],[225,75],[230.4,68],[234.4,79],[243,59],[248.4,56],[254.4,42.5],[261.7,59],[267,70.5],[273.7,90],[277.7,92],[287.4,94],[292.4,84],[297.7,57],[301.7,53],[307.7,52],[312.4,39.5],[322.4,20],[326.4,10],[331.7,13],[341,8],[345.7,6.5],[352.4,7],[357.7,13],[364.4,16],[368.4,9],[377.7,20],[385,6],[392,20],[398.4,32],[405,44],[410,63],[414.6,87],[416.6,88],[424.4,70],[432.8,94],[438,84],[444.5,51],[451.6,35],[458,16],[460.7,10.6],[468,26],[474.4,31],[479,23],[482,20],[486.7,31],[492,56],[495,63],[501,67.5],[507,75],[513.7,87]];
const stochMonthly = [[0,64.5],[8,60],[15.5,54],[23.5,48],[37,46],[49,46],[63.5,51],[79.5,57],[101,60],[117,66],[130,73],[143.5,80],[161,85],[179,89],[192,90],[216,94],[235,94],[255,90.5],[286,90.5],[319,87],[330,79],[339,71],[352,56],[366,41],[379,31],[388,24],[401,19],[414,21],[424,22],[433.5,26],[446.5,29],[459.5,28],[472.4,24],[485.4,20],[498.4,17],[513.7,21]];

// ---------- scales ----------
const X0 = 98, X1 = 1977.5;
const xS = d3.scaleLinear().domain([0, 514]).range([100, 1821.9]);
const yP = d3.scaleLog().domain([6200, 9600]).range([1036.6, 285.3]);
const yD = d3.scaleLinear().domain([0, 50]).range([21, 147.5]);
const yC = d3.scaleLinear().domain([0, 4]).range([222, 194]);
const yR = d3.scaleLinear().domain([30, 70]).range([1120.3, 1086.6]);
const yS = d3.scaleLinear().domain([0, 100]).range([1274.7, 1161.7]);

const pts = (s: any) => d3.line<number[]>().x(d => xS(d[0])).y(d => s(d[1]));
const smooth = (s: any) => d3.line<number[]>().x(d => xS(d[0])).y(d => s(d[1])).curve(d3.curveMonotoneX);

const SANS = "'Liberation Sans', Arial, sans-serif";
const SERIF = "'Liberation Serif', 'Times New Roman', serif";

function T({ x, y, s, size = 18, w, fill = "#111", weight = 400, family = SANS, style, clip }: any) {
  return <text x={x} y={y} fontSize={size} fill={fill} fontWeight={weight} fontFamily={family} fontStyle={style} textLength={w} lengthAdjust="spacingAndGlyphs" clipPath={clip}>{s}</text>;
}
function AxisText({ x, y, s, weight = 700, size = 20.5, sx = 0.82, anchor = "end" }: any) {
  return <text transform={`translate(${x},${y}) scale(${sx},1)`} fontSize={size} fill="#111" fontWeight={weight} fontFamily={SANS} textAnchor={anchor}>{s}</text>;
}
function Arrow({ x, tip, head, end, hw, sw, fill }: any) {
  return <path d={`M${x},${tip}L${x + hw},${head}L${x + sw / 2},${head}L${x + sw / 2},${end}L${x - sw / 2},${end}L${x - sw / 2},${head}L${x - hw},${head}Z`} fill={fill} />;
}

function Rail({ vals, scale, major, leftLen = 7 }: any) {
  return <g stroke="#111" strokeWidth={1}>
    {vals.map((v: number, i: number) => {
      const y = Math.round(scale(v)) + 0.5;
      const m = major(v);
      return <g key={i}>
        <line x1={m ? 85 : X0 - leftLen} x2={X0} y1={y} y2={y} />
        <line x1={X1} x2={m ? 1992 : 1987} y1={y} y2={y} />
      </g>;
    })}
  </g>;
}

const allCandles = [candlesA, candlesB, candlesC, candlesD].flatMap((arr, k) =>
  arr.map((c, i) => ({ i: sectionStart[k] + i, o: c[0], h: c[1], l: c[2], c: c[3] })));

function Candles() {
  return <g>
    {allCandles.map((d, n) => {
      const up = d.c >= d.o;
      const x = xS(d.i);
      const top = yP(Math.max(d.o, d.c));
      const bot = yP(Math.min(d.o, d.c));
      const col = up ? "#222" : "#ff0000";
      return <g key={n}>
        <line x1={x} x2={x} y1={yP(d.h)} y2={yP(d.l)} stroke={col} strokeWidth={1} />
        <rect x={x - (up ? 1.4 : 1.7)} y={top} width={up ? 2.8 : 3.4} height={Math.max(bot - top, 1)} fill={up ? "#fff" : "#ff0000"} stroke={up ? "#222" : "#ff0000"} strokeWidth={up ? 1 : 0.4} />
      </g>;
    })}
  </g>;
}

const vDash = [
  { x: 534, c: "#e4e4f4", w: 1.5, d: "14 9" }, { x: 587, c: "#e4e4f4", w: 1.5, d: "14 9" },
  { x: 644, c: "#d6d6d6", w: 2, d: "14 9" }, { x: 693, c: "#dcdce0", w: 1.5, d: "14 9" }, { x: 875, c: "#d4d4d4", w: 1.2, d: "14 9" },
];

export default function App() {
  const d3Range = d3.range;
  const gridVals = [9600,9400,9200,9000,8800,8600,8400,8200,8000,7900,7800,7700,7600,7500,7400,7300,7200,7100,7000,6900,6800,6700,6600,6400,6300,6200];
  const railPrice = d3Range(6150, 9750, 50).filter(v => v < 8200 ? true : v % 100 === 0);
  const monthX = monthDay.map(m => xS(m));
  return (
    <svg width={2082} height={1333} viewBox="0 0 2082 1333" style={{ position: "fixed", left: 0, top: 0, background: "#fff" }}>
      <defs>
        <clipPath id="plot"><rect x={X0} y={0} width={X1 - X0} height={1297} /></clipPath>
      </defs>
      <rect x={0} y={0} width={2082} height={3.5} fill="#e4e4e4" />
      <rect x={8} y={4.5} width={2060} height={1340} fill="#fff" stroke="#333" strokeWidth={1.4} />

      {/* grid */}
      {gridVals.map(v => <line key={v} x1={X0} x2={X1} y1={yP(v)} y2={yP(v)} stroke="#e3e3f8" strokeWidth={1.5} strokeDasharray="12 8" />)}
      <line x1={X0} x2={X1} y1={yP(8900)} y2={yP(8900)} stroke="#cfcfcf" strokeWidth={1.3} strokeDasharray="12 8" />
      {vDash.map(v => <line key={v.x} x1={v.x} x2={v.x} y1={8} y2={1297} stroke={v.c} strokeWidth={v.w} strokeDasharray={v.d} />)}
      <line x1={152} x2={152} y1={8} y2={1297} stroke="#d2d2d2" strokeWidth={1.6} />

      {/* separators */}
      <line x1={8} x2={2068} y1={164.3} y2={164.3} stroke="#333" strokeWidth={1.2} />
      <line x1={8} x2={2068} y1={272.3} y2={272.3} stroke="#aaa" strokeWidth={1.4} />

      {/* event verticals */}
      <line x1={1065.5} x2={1065.5} y1={8} y2={1297} stroke="#f02020" strokeWidth={1} strokeDasharray="108 14" />
      <line x1={1550.5} x2={1550.5} y1={8} y2={1297} stroke="#f03030" strokeWidth={1} strokeDasharray="12 8" />
      <line x1={1640.5} x2={1640.5} y1={8} y2={1297} stroke="#6fa56f" strokeWidth={1.8} strokeDasharray="105 15" />
      <line x1={1705} x2={1705} y1={8} y2={1297} stroke="#2d6e2d" strokeWidth={1} strokeDasharray="12 8" />
      <line x1={1750.5} x2={1750.5} y1={8} y2={1297} stroke="#f03030" strokeWidth={1} strokeDasharray="12 8" />

      {/* DMI */}
      <line x1={X0} x2={X1} y1={yD(0)} y2={yD(0)} stroke="#3344ee" strokeWidth={2.2} />
      <path d={pts(yD)(diRed as any)!} fill="none" stroke="#ff2020" strokeWidth={1} />
      <path d={pts(yD)(diBlue as any)!} fill="none" stroke="#101080" strokeWidth={1} />
      <T x={783.5} y={28} s="Directnl Movement +DI (42.0000), Directnl Movement -DI (16.0000)" size={19} w={508.5} />
      <Arrow x={1715} tip={131} head={142} end={153} hw={9} sw={6} fill="#006000" />

      {/* ROC */}
      <line x1={X0} x2={X1} y1={yC(0)} y2={yC(0)} stroke="#ff6a6a" strokeWidth={1.8} />
      <path d={pts(yC)(rocLine as any)!} fill="none" stroke="#1a1aff" strokeWidth={1} />
      <T x={957} y={183} s="Price ROC (3.96622)" size={19} w={162} weight={700} />

      {/* main */}
      <path d={smooth(yP)(ma200 as any)!} fill="none" stroke="#f83838" strokeWidth={1.4} />
      <path d={smooth(yP)(ma100 as any)!} fill="none" stroke="#2222ee" strokeWidth={1.3} strokeDasharray="12 8" />
      <line x1={X0} x2={X1} y1={yP(8126)} y2={yP(8126)} stroke="#ee3030" strokeWidth={1.1} strokeDasharray="11 7" />
      <line x1={X0} x2={X1} y1={yP(6500)} y2={yP(6500)} stroke="#2d6e2d" strokeWidth={1.1} strokeDasharray="11 7" />
      <Candles />
      <path d={smooth(yP)(ma50 as any)!} fill="none" stroke="#1d6a1d" strokeWidth={1.2} />
      <path d={pts(yP)(trendUp as any)!} fill="none" stroke="#55d855" strokeWidth={1.3} />
      <path d={pts(yP)(trendDown as any)!} fill="none" stroke="#f02a2a" strokeWidth={1.3} />
      <T x={766} y={292} s="Manila/Comp.Index (7,931.87, 7,992.33, 7,898.63, 7,985.23, +65.5601)" size={19} w={545} weight={700} />

      {/* logo */}
      <rect x={106} y={295} width={162} height={82} fill="#388f8f" />
      <path d="M108,349 C109,360 122,358 134,346 C146,334 154,314 172,309" fill="none" stroke="#fff" strokeWidth={4.5} strokeLinecap="round" />
      <T x={143} y={352} s="Midas" size={70} w={119} weight={700} family={SERIF} style="italic" fill="#fff" />

      <T x={402} y={355} s="Manila" size={50} w={156} weight={700} family={SERIF} fill="#7b0000" />
      <T x={313} y={414} s="Composite Index" size={50} w={370} weight={700} family={SERIF} fill="#7b0000" />

      <T x={481} y={534} s="8.046,63" size={20.5} w={65} fill="#1a8c1a" />
      <T x={472} y={558} s="8. Juni ´17" size={20.5} w={78} fill="#1a8c1a" />
      <T x={563} y={682} s="7.734" size={22} w={42} weight={700} fill="#ff2020" />

      <rect x={784.5} y={322} width={119} height={41} fill="#00ff00" stroke="#bfe9bf" />
      <T x={794} y={355} s="+38,0%" size={33} w={100} weight={700} />
      <rect x={926} y={316} width={115} height={59} fill="#005500" />
      <T x={944} y={338} s="8.969,18" size={23} w={82} weight={700} fill="#fff" />
      <T x={934} y={368} s="16. Jan.´18" size={23} w={106} weight={700} fill="#fff" />
      <Arrow x={1062} tip={369} head={353} end={334} hw={14} sw={10} fill="#ff0000" />

      <rect x={98} y={970} width={125} height={53} fill="#fff" stroke="#ff3030" strokeWidth={1.2} />
      <T x={126} y={991} s="6.499" size={20.5} w={48} fill="#ff2020" />
      <T x={95} y={1018} s="23. Dez. 2016" size={20.5} w={117} fill="#ff2020" clip="url(#plot)" />
      <Arrow x={152} tip={1032} head={1046} end={1052} hw={14} sw={10} fill="#006000" />

      <circle cx={1493} cy={553} r={11.5} fill="#0a8a0a" />
      <text x={1493} y={560} fontSize={19} fontWeight={700} fill="#fff" fontFamily={SANS} textAnchor="middle">1</text>
      <circle cx={1550.5} cy={553} r={11.5} fill="#0a8a0a" />
      <text x={1550.5} y={560} fontSize={19} fontWeight={700} fill="#fff" fontFamily={SANS} textAnchor="middle">2</text>

      <T x={1702} y={563} s="7.703,92" size={21} w={65} weight={700} fill="#1a8c1a" />
      <T x={1697} y={587} s="4. Dez. ´18" size={21} w={81} weight={700} fill="#1a8c1a" />

      <rect x={1851} y={466} width={98} height={64} fill="#440044" stroke="#b8a8c0" />
      <T x={1858} y={492} s="7.985,23" size={27} w={90} weight={700} fill="#fff" />
      <T x={1865} y={523} s="aktuell" size={27} w={72} weight={700} fill="#fff" />
      <rect x={1860} y={619} width={107} height={33} fill="#00ff00" />
      <T x={1868} y={645} s="+ 17,59%" size={29} w={97} weight={700} />
      <rect x={1836} y={780} width={109} height={48} fill="#8b0000" stroke="#333" />
      <T x={1861} y={800} s="7.515" size={20} w={41} weight={700} fill="#fff" />
      <T x={1837} y={823} s="200-Tage GD" size={20} w={102} weight={700} fill="#fff" />

      <rect x={1375} y={965} width={120} height={42} fill="#ff0000" />
      <T x={1384} y={999} s="- 24,3%" size={36} w={100} weight={700} fill="#fff" />
      <rect x={1505} y={951} width={109} height={53} fill="#ff0000" />
      <T x={1517} y={972} s="6.790,58" size={21} w={73} weight={700} fill="#fff" />
      <T x={1512} y={999} s="11. Okt.´18" size={21} w={95} weight={700} fill="#fff" />
      <Arrow x={1644} tip={966} head={985} end={1011} hw={18.5} sw={12} fill="#004040" />
      <rect x={1661} y={966} width={109} height={53} fill="#fff" fillOpacity={0.4} stroke="#ff5050" strokeWidth={1.2} />
      <T x={1683} y={987} s="6.820,22" size={21} w={73} fill="#ff2020" />
      <T x={1667} y={1013} s="13. Nov. ´18" size={21} w={102} fill="#ff2020" />
      <circle cx={1647} cy={907} r={17} fill="#f00000" />
      <text x={1647} y={917} fontSize={29} fontWeight={700} fill="#fff" fontFamily={SANS} textAnchor="middle">1</text>
      <circle cx={1705} cy={898} r={17} fill="#f00000" />
      <text x={1705} y={908} fontSize={29} fontWeight={700} fill="#fff" fontFamily={SANS} textAnchor="middle">2</text>

      {/* RSI */}
      <line x1={X0} x2={X1} y1={yR(80)} y2={yR(80)} stroke="#e02020" strokeWidth={1.3} />
      <line x1={X0} x2={X1} y1={yR(70)} y2={yR(70)} stroke="#2222ee" strokeWidth={1.2} strokeDasharray="11 7" />
      <line x1={X0} x2={X1} y1={yR(30)} y2={yR(30)} stroke="#2222ee" strokeWidth={1.2} strokeDasharray="11 7" />
      <path d={pts(yR)(rsiLine as any)!} fill="none" stroke="#6a6a6a" strokeWidth={1} />
      <T x={887.5} y={1072} s="Relative Strength Index (70.5271)" size={20} w={300} weight={700} />
      <T x={169} y={1105} s="71,8" size={24} w={41} weight={700} fill="#ff2020" />
      <Arrow x={1058.5} tip={1074} head={1066} end={1052} hw={8} sw={6} fill="#ff0000" />

      {/* Stochastics */}
      <line x1={X0} x2={X1} y1={yS(100)} y2={yS(100)} stroke="#e02020" strokeWidth={1.3} />
      <line x1={X0} x2={X1} y1={yS(80)} y2={yS(80)} stroke="#2222ee" strokeWidth={1.2} strokeDasharray="11 7" />
      <line x1={X0} x2={X1} y1={yS(20)} y2={yS(20)} stroke="#2222ee" strokeWidth={1.2} strokeDasharray="11 7" />
      <line x1={X0} x2={X1} y1={yS(0)} y2={yS(0)} stroke="#68b068" strokeWidth={1.8} />
      <path d={smooth(yS)(stochMonthly as any)!} fill="none" stroke="#8fb0cf" strokeWidth={1.4} />
      <path d={smooth(yS)(stochWeekly as any)!} fill="none" stroke="#1d6a1d" strokeWidth={1.2} />
      <path d={smooth(yS)(stochDaily as any)!} fill="none" stroke="#ff1818" strokeWidth={1.1} />
      <T x={680} y={1160.5} s="Stochastic Oscillator (21.3917), Stochastic Oscillator (87.0643), Stochastic Oscillator (87.7284)" size={19} w={715.5} />
      <Arrow x={460} tip={1157} head={1147} end={1141} hw={10} sw={7} fill="#ff0000" />
      <Arrow x={1061.5} tip={1160} head={1147} end={1142} hw={14} sw={8} fill="#ff0000" />
      <Arrow x={1753} tip={1156} head={1147} end={1141} hw={10} sw={7} fill="#ff0000" />
      <Arrow x={113} tip={1258} head={1268} end={1280} hw={9} sw={6} fill="#006000" />
      <Arrow x={148} tip={1275} head={1288} end={1297} hw={13} sw={8} fill="#006000" />
      <Arrow x={1640.5} tip={1277} head={1288} end={1297} hw={14} sw={8} fill="#006000" />
      <ellipse cx={129} cy={1264.5} rx={74} ry={22} fill="none" stroke="#1d6a1d" strokeWidth={1.2} clipPath="url(#plot)" />
      <T x={1870} y={1184} s="-daily-" size={21} w={50} weight={700} fill="#ff1818" />
      <T x={1870} y={1207} s="87,72" size={21} w={42} weight={700} fill="#ff1818" />
      <T x={1861} y={1234} s="-weekly-" size={21} w={66} weight={700} fill="#1a8c1a" />
      <T x={1870} y={1258} s="87,06" size={21} w={42} weight={700} fill="#1a8c1a" />
      <T x={1861} y={1267} s="-monthly-" size={22} w={78} fill="#101080" />
      <T x={1871} y={1293} s="21,39" size={22} w={48} fill="#101080" />

      {/* rails */}
      <Rail vals={d3Range(-3, 56, 1)} scale={yD} major={(v: number) => v % 10 === 0} />
      <Rail vals={d3Range(-7, 7.6, 0.5)} scale={yC} major={(v: number) => Number.isInteger(v) && (v - 1) % 3 === 0} />
      <Rail vals={railPrice} scale={yP} major={(v: number) => v >= 8200 ? v % 200 === 0 || v === 8100 : v % 100 === 0} />
      <Rail vals={d3Range(4, 105, 1)} scale={yR} major={(v: number) => v % 30 === 25} />
      <Rail vals={d3Range(-15, 120, 5)} scale={yS} major={(v: number) => v % 20 === 0} />
      <line x1={X0} x2={X0} y1={8} y2={1297} stroke="#333" strokeWidth={0.8} />
      <line x1={X1} x2={X1} y1={8} y2={1297} stroke="#333" strokeWidth={0.8} />

      {/* left & right numbers */}
      {priceLabels.map(v => <g key={v}>
        <AxisText x={84} y={yP(v) + 8} s={v} />
        <AxisText x={2064} y={yP(v) + 8} s={v} />
      </g>)}
      {diLabels.map(v => <g key={v}>
        <AxisText x={84} y={yD(v) + 9} s={v} weight={400} size={19} sx={0.85} />
        <AxisText x={2064} y={yD(v) + 9} s={v} weight={400} size={19} sx={0.85} />
      </g>)}
      {rocLabels.map(v => <g key={v}>
        <AxisText x={84} y={yC(v) + 9} s={v} weight={400} size={19} sx={0.85} />
        <AxisText x={2064} y={yC(v) + 9} s={v} size={19} sx={0.85} />
      </g>)}
      {rsiLabels.map(v => <g key={v}>
        <AxisText x={84} y={yR(v) + 9} s={v} size={20} sx={0.85} />
        <AxisText x={2064} y={yR(v) + 9} s={v} size={20} sx={0.85} />
      </g>)}
      {stochLabels.map(v => <g key={v}>
        <AxisText x={84} y={yS(v) + 9} s={v} weight={400} size={19} sx={0.85} />
        <AxisText x={2064} y={yS(v) + 9} s={v} weight={400} size={19} sx={0.85} />
      </g>)}

      {/* x axis */}
      <line x1={X0} x2={X1} y1={1297} y2={1297} stroke="#111" strokeWidth={1.2} />
      {d3Range(0, 562).map(i => <line key={i} x1={xS(i)} x2={xS(i)} y1={1297} y2={1306} stroke="#666" strokeWidth={1} />)}
      {monthX.map((x, i) => <g key={i}>
        <line x1={x} x2={x} y1={1297} y2={1330} stroke="#333" strokeWidth={1} />
        <AxisText x={x + 1} y={1328} s={monthNames[i]} size={24} sx={0.84} anchor="start" />
      </g>)}
    </svg>
  );
}
